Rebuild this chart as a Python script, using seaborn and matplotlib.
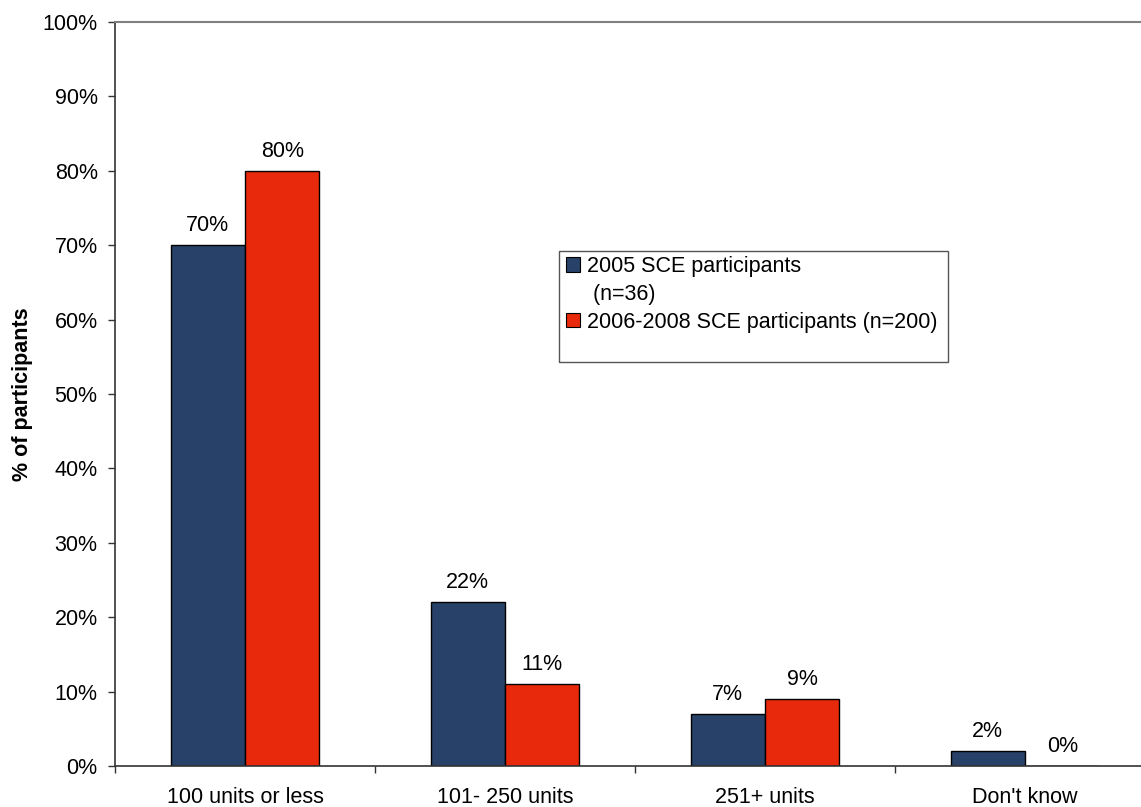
import matplotlib
matplotlib.use("Agg")
import matplotlib.pyplot as plt
import seaborn as sns
import pandas as pd
import numpy as np
from matplotlib.patches import Patch, Rectangle
from matplotlib.ticker import FixedLocator, FuncFormatter

categories = ["100 units or less", "101- 250 units", "251+ units", "Don't know"]
series_names = ["2005 SCE participants", "2006-2008 SCE participants (n=200)"]
series_note = " (n=36)"
values_2005 = [70, 22, 7, 2]
values_2006_2008 = [80, 11, 9, 0]
y_ticks = list(range(0, 101, 10))

df = pd.DataFrame({
    "category": categories * 2,
    "series": [series_names[0]] * len(categories) + [series_names[1]] * len(categories),
    "value": values_2005 + values_2006_2008,
})

sns.set_style("white")
plt.rcParams["font.family"] = ["Liberation Sans", "DejaVu Sans"]
plt.rcParams["text.color"] = "black"
FS = 15.5

W, H = 1141, 807
fig = plt.figure(figsize=(W / 100, H / 100), dpi=100)
ax = fig.add_axes([115 / W, 41 / H, (1155 - 115) / W, (766 - 22) / H])

palette = {series_names[0]: "#284168", series_names[1]: "#E8290B"}
sns.barplot(data=df, x="category", y="value", hue="series", order=categories,
            hue_order=series_names, palette=palette, width=0.573, gap=0,
            edgecolor="black", linewidth=1.0, saturation=1, ax=ax, legend=False)

for cont in ax.containers:
    ax.bar_label(cont, labels=[f"{v:.0f}%" for v in cont.datavalues],
                 padding=6.5, fontsize=FS, color="black")

ax.set_xlim(-0.5, len(categories) - 0.5)
ax.set_ylim(0, 100)
ax.yaxis.set_major_locator(FixedLocator(y_ticks))
ax.yaxis.set_major_formatter(FuncFormatter(lambda v, p: f"{v:.0f}%"))
ax.tick_params(axis="y", which="major", direction="out", length=5, width=1,
               color="#333333", labelsize=FS, labelcolor="black", pad=7.5, left=True)

ax.set_xticks(range(len(categories)))
ax.set_xticklabels(categories)
ax.set_xticks(np.arange(-0.5, len(categories) + 0.5, 1), minor=True)
ax.tick_params(axis="x", which="major", length=0, labelsize=FS,
               labelcolor="black", pad=15)
ax.tick_params(axis="x", which="minor", direction="out", length=5, width=1,
               color="#333333", bottom=True)

ax.set_xlabel("")
ax.set_ylabel("% of participants", fontsize=FS, fontweight="bold",
              color="black", labelpad=6.5)

for side in ["left", "bottom"]:
    ax.spines[side].set_color("#333333")
    ax.spines[side].set_linewidth(1.2)
ax.spines["top"].set_color("#808080")
ax.spines["top"].set_linewidth(1.5)
ax.spines["right"].set_visible(False)

# legend: the 2005 entry's sample size sits on its own indented line
handles = [
    Patch(facecolor=palette[series_names[0]], edgecolor="black", linewidth=0.8),
    Patch(facecolor="none", edgecolor="none"),
    Patch(facecolor=palette[series_names[1]], edgecolor="black", linewidth=0.8),
]
labels = [series_names[0], series_note, series_names[1]]
leg = fig.legend(handles, labels, loc="upper left",
                 bbox_to_anchor=(566 / W, 1 - 256 / H),
                 bbox_transform=fig.transFigure, fontsize=FS, frameon=False,
                 handlelength=0.66, handleheight=0.66, handletextpad=0.3,
                 borderpad=0, labelspacing=0.32, borderaxespad=0)
fig.add_artist(Rectangle((559 / W, 1 - 362 / H), (948 - 559) / W, (362 - 251) / H,
                         transform=fig.transFigure, facecolor="white",
                         edgecolor="#555555", linewidth=1.0, zorder=leg.get_zorder() - 1))

fig.savefig("out.png", dpi=100)
